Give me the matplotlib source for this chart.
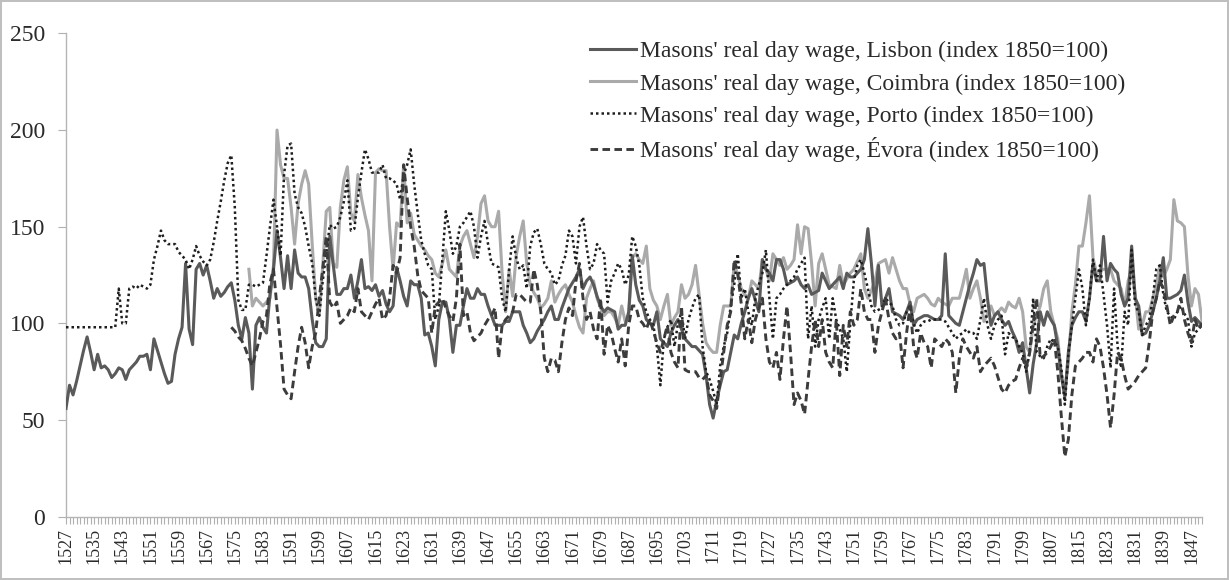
import numpy as np
import matplotlib
matplotlib.use("Agg")
import matplotlib.pyplot as plt

plt.rcParams['font.family'] = ['Liberation Serif', 'DejaVu Serif']

lisbon_start = 1527
lisbon = [
    56, 68, 63, 70, 78, 86, 93, 85, 76, 84,
    77, 78, 76, 72, 74, 77, 76, 71, 76, 78,
    80, 83, 83, 84, 76, 92, 86, 80, 74, 69,
    70, 84, 92, 98, 131, 97, 89, 128, 131, 125,
    130, 122, 113, 118, 114, 116, 119, 121, 112, 99,
    92, 103, 95, 66, 99, 103, 98, 95, 115, 128,
    148, 134, 118, 135, 118, 138, 126, 124, 124, 118,
    102, 90, 88, 88, 92, 145, 130, 115, 115, 118,
    118, 125, 113, 122, 133, 118, 119, 117, 120, 114,
    117, 110, 106, 109, 129, 122, 114, 109, 122, 120,
    120, 113, 94, 95, 88, 78, 102, 111, 111, 102,
    85, 99, 99, 109, 118, 113, 113, 118, 115, 115,
    109, 104, 99, 99, 99, 101, 101, 106, 106, 106,
    99, 95, 90, 92, 96, 99, 102, 106, 109, 102,
    102, 108, 113, 118, 121, 124, 128, 118, 122, 124,
    120, 114, 109, 106, 108, 107, 106, 97, 99, 99,
    106, 135, 120, 112, 109, 102, 100, 99, 106, 92,
    90, 88, 95, 99, 102, 97, 92, 90, 88, 88,
    86, 84, 73, 58, 51, 60, 68, 75, 76, 85,
    94, 92, 100, 106, 113, 118, 112, 106, 133, 128,
    126, 122, 133, 133, 128, 120, 121, 122, 124, 120,
    118, 120, 115, 116, 117, 126, 122, 118, 120, 122,
    124, 118, 126, 124, 124, 126, 128, 133, 149, 131,
    109, 130, 109, 113, 118, 106, 105, 104, 102, 106,
    111, 99, 102, 103, 104, 104, 103, 102, 102, 104,
    136, 104, 102, 100, 99, 106, 113, 120, 126, 133,
    130, 131, 113, 99, 104, 106, 102, 99, 101, 96,
    92, 85, 90, 77, 64, 79, 90, 106, 99, 106,
    102, 99, 88, 73, 62, 85, 99, 103, 106, 106,
    101, 113, 131, 122, 122, 145, 122, 131, 128, 126,
    115, 109, 113, 140, 113, 109, 94, 95, 99, 106,
    113, 122, 134, 113, 113, 114, 115, 117, 125, 111,
    101, 103, 101, 99,
]

coimbra_start = 1579
coimbra = [
    128, 109, 113, 111, 109, 111, 113, 130, 200, 182, 175,
    175, 160, 141, 162, 172, 179, 172, 141, 113, 104,
    130, 158, 160, 131, 129, 160, 174, 181, 157, 153,
    177, 165, 156, 148, 122, 178, 180, 179, 179, 150,
    128, 152, 150, 182, 152, 157, 146, 143, 140, 138,
    135, 133, 126, 124, 131, 138, 128, 126, 124, 140,
    145, 148, 141, 134, 145, 162, 166, 153, 150, 150,
    158, 126, 106, 128, 114, 135, 145, 153, 131, 120,
    116, 113, 108, 110, 113, 122, 111, 115, 118, 120,
    115, 111, 104, 98, 95, 113, 118, 122, 113, 108,
    104, 106, 106, 103, 99, 109, 101, 104, 134, 136,
    133, 131, 140, 118, 112, 109, 102, 109, 115, 99,
    103, 106, 120, 113, 115, 120, 130, 115, 100, 90,
    87, 85, 85, 99, 109, 109, 109, 131, 125, 118,
    115, 113, 122, 120, 118, 133, 128, 122, 136, 133,
    130, 134, 128, 130, 133, 151, 136, 150, 149, 131,
    109, 131, 136, 128, 120, 119, 118, 130, 120, 123,
    126, 128, 132, 136, 118, 113, 117, 122, 131, 132,
    133, 126, 134, 128, 122, 118, 118, 110, 106, 113,
    114, 115, 113, 110, 109, 113, 111, 110, 109, 113,
    113, 113, 120, 128, 113, 118, 122, 113, 101, 105,
    109, 104, 106, 108, 106, 111, 109, 108, 113, 106,
    88, 85, 99, 104, 109, 118, 122, 106, 99, 92,
    73, 65, 80, 106, 120, 140, 140, 152, 166, 134,
    126, 127, 128, 128, 128, 122, 120, 118, 109, 122,
    128, 115, 97, 99, 106, 106, 113, 120, 130, 124,
    128, 133, 164, 153, 152, 150, 125, 109, 118, 115,
    101,
]

porto_start = 1527
porto = [
    98, 98, 98, 98, 98, 98, 98, 98, 98, 98,
    98, 98, 98, 98, 98, 118, 100, 100, 118, 119,
    118, 120, 119, 118, 120, 133, 140, 148, 143, 141,
    141, 141, 137, 135, 133, 128, 133, 140, 135, 132,
    130, 133, 142, 153, 163, 174, 183, 187, 160, 112,
    107, 107, 120, 120, 119, 120, 121, 135, 150, 164,
    150, 135, 177, 192, 193, 167, 160, 157, 150, 140,
    131, 113, 104, 122, 136, 151, 149, 150, 155, 163,
    174, 148, 149, 165, 178, 190, 185, 178, 178, 178,
    182, 175, 175, 174, 172, 164, 177, 182, 190, 172,
    157, 143, 136, 130, 128, 102, 109, 133, 158, 148,
    136, 140, 150, 152, 155, 158, 150, 134, 145, 153,
    141, 131, 130, 129, 113, 106, 128, 145, 134, 128,
    130, 118, 140, 147, 149, 141, 131, 128, 126, 120,
    122, 130, 135, 148, 145, 131, 150, 155, 140, 128,
    131, 141, 138, 136, 111, 122, 126, 131, 128, 120,
    125, 145, 140, 130, 113, 106, 102, 99, 88, 68,
    92, 98, 102, 88, 100, 106, 92, 102, 108, 113,
    115, 88, 75, 71, 65, 58, 78, 88, 95, 109,
    120, 136, 113, 118, 106, 99, 113, 120, 126, 138,
    113, 92, 113, 115, 118, 120, 122, 124, 128, 131,
    134, 92, 109, 88, 102, 108, 113, 92, 113, 102,
    97, 92, 75, 100, 122, 130, 133, 126, 118, 109,
    106, 107, 108, 113, 111, 109, 102, 99, 100, 106,
    109, 100, 95, 99, 101, 101, 102, 102, 102, 102,
    101, 98, 95, 92, 94, 95, 97, 95, 95, 92,
    102, 113, 99, 92, 99, 102, 104, 84, 95, 93,
    92, 88, 85, 75, 85, 113, 85, 83, 82, 88,
    92, 90, 88, 77, 58, 84, 99, 113, 128, 118,
    99, 113, 133, 122, 130, 115, 99, 77, 118, 88,
    77, 106, 99, 138, 109, 106, 94, 99, 102, 113,
    128, 130, 115, 106, 104, 102, 106, 109, 105, 102,
    88, 95, 97, 99,
]

evora_start = 1574
evora = [
    98, 96, 93, 91, 87, 82, 78, 85, 92, 101,
    104, 121, 128, 108, 89, 66, 63, 61, 75, 88,
    98, 90, 77, 88, 95, 113, 128, 145, 111, 108,
    111, 100, 102, 104, 108, 106, 118, 106, 104, 102,
    106, 110, 113, 102, 104, 113, 130, 126, 134, 182,
    165, 150, 140, 125, 117, 115, 113, 95, 109, 111,
    113, 108, 104, 101, 113, 141, 104, 106, 95, 91,
    93, 95, 99, 102, 104, 108, 82, 99, 102, 104,
    106, 115, 115, 113, 111, 111, 128, 120, 106, 82,
    75, 82, 81, 75, 90, 102, 108, 104, 122, 131,
    113, 102, 106, 97, 92, 113, 84, 99, 95, 87,
    80, 92, 78, 99, 109, 109, 102, 100, 97, 102,
    96, 90, 85, 92, 99, 85, 80, 77, 109, 76,
    75, 75, 75, 72, 71, 73, 63, 60, 56, 71,
    85, 99, 106, 133, 126, 110, 92, 102, 90, 102,
    108, 113, 92, 80, 77, 85, 71, 92, 109, 85,
    58, 64, 60, 53, 71, 88, 102, 88, 102, 85,
    80, 77, 102, 73, 99, 88, 106, 99, 102, 118,
    106, 102, 102, 85, 99, 106, 113, 102, 95, 92,
    95, 77, 95, 109, 88, 82, 95, 90, 88, 77,
    92, 90, 88, 92, 90, 85, 64, 82, 92, 88,
    85, 82, 88, 75, 78, 80, 82, 78, 72, 66,
    64, 68, 70, 71, 77, 82, 77, 85, 100, 113,
    82, 83, 85, 88, 92, 75, 52, 31, 40, 63,
    78, 80, 82, 85, 85, 80, 92, 88, 77, 63,
    46, 63, 85, 82, 73, 66, 68, 70, 73, 75,
    77, 90, 106, 113, 122, 118, 109, 99, 104, 106,
    113, 102, 95, 90, 102, 97, 100,
]

labels = [
    "Masons' real day wage, Lisbon (index 1850=100)",
    "Masons' real day wage, Coimbra (index 1850=100)",
    "Masons' real day wage, Porto (index 1850=100)",
    "Masons' real day wage, Évora (index 1850=100)",
]

first_year, last_year = 1527, 1850
tick_years = list(range(1527, 1848, 8))
y_ticks = [0, 50, 100, 150, 200, 250]

fig = plt.figure(figsize=(12.29, 5.80), dpi=100)
fig.patch.set_edgecolor('#bfbfbf')
fig.patch.set_linewidth(1.5)
ax = fig.add_axes([66 / 1229, 1 - 516.7 / 580, (1202 - 66) / 1229, (516.7 - 33.4) / 580])


def yrs(start, vals):
    return np.arange(start, start + len(vals))


ax.plot(yrs(lisbon_start, lisbon), lisbon, color='#5a5a5a', lw=2.2, ls='-',
        label=labels[0], zorder=4)
ax.plot(yrs(coimbra_start, coimbra), coimbra, color='#aaaaaa', lw=2.2, ls='-',
        label=labels[1], zorder=3)
ax.plot(yrs(porto_start, porto), porto, color='#1e1e1e', lw=1.8, ls=(0, (1, 1.2)),
        label=labels[2], zorder=5)
ax.plot(yrs(evora_start, evora), evora, color='#3c3c3c', lw=2.1, ls=(0, (2.6, 1.5)),
        label=labels[3], zorder=6)

ax.set_xlim(first_year, last_year)
ax.set_ylim(0, 250)
ax.set_yticks(y_ticks)
ax.set_yticklabels([str(v) for v in y_ticks], fontsize=17, color='#2a2a2a')
ax.set_xticks(tick_years)
ax.set_xticklabels([str(y) for y in tick_years], rotation=90, fontsize=13, color='#2a2a2a')
ax.set_xticks(np.arange(first_year, last_year + 1), minor=True)
ax.tick_params(axis='x', which='both', direction='out', length=5, width=0.8,
               color='#b0b0b0', pad=3)
ax.tick_params(axis='y', direction='out', length=6, width=0.8, color='#b0b0b0', pad=9)

for s in ['top', 'right']:
    ax.spines[s].set_visible(False)
for s in ['left', 'bottom']:
    ax.spines[s].set_color('#b5b5b5')
    ax.spines[s].set_linewidth(1.0)

leg = ax.legend(loc='upper left', bbox_to_anchor=(0.453, 1.004), frameon=False,
                fontsize=17, handlelength=1.95, handletextpad=0.17,
                labelspacing=0.45, borderaxespad=0)
for t in leg.get_texts():
    t.set_color('#2a2a2a')

fig.savefig('out.png', dpi=100)
